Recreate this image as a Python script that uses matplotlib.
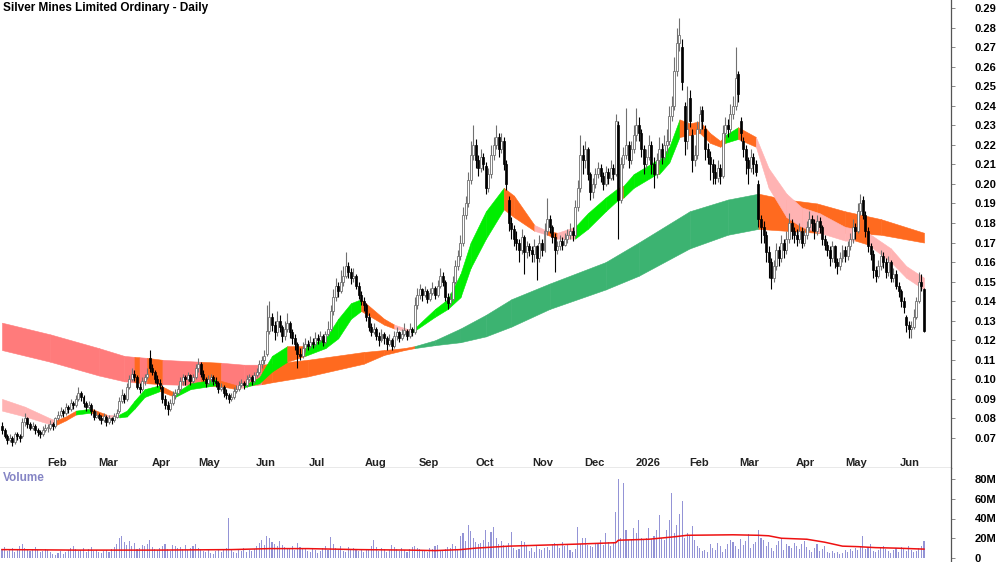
import numpy as np
import pandas as pd
import matplotlib
matplotlib.use('Agg')
import matplotlib.pyplot as plt
from matplotlib.transforms import blended_transform_factory

plt.rcParams['font.family'] = ['Liberation Sans', 'DejaVu Sans']

TITLE = "Silver Mines Limited Ordinary - Daily"

# ---------------- data (prices in 1/1000 dollar) ----------------
holidays = ['2025-01-27', '2025-04-18', '2025-04-21', '2025-04-25', '2025-06-09',
            '2025-12-25', '2025-12-26', '2026-01-01', '2026-01-26', '2026-04-03',
            '2026-04-06', '2026-06-08']
start_date, end_date = '2025-01-07', '2026-06-15'

opens = [76,74,71,69,70,68,72,71,71,78,80,77,75,76,74,73,72,74,
 75,75,77,76,80,82,84,83,86,85,88,87,90,93,91,88,86,87,84,81,
 82,80,79,81,78,80,79,81,84,89,92,90,96,100,103,101,96,95,99,101,111,
 106,104,100,98,96,90,87,85,88,92,93,95,99,101,100,102,99,101,106,
 108,103,100,98,100,101,99,98,95,96,93,92,90,91,94,95,97,98,97,100,101,99,
 102,104,108,110,113,125,132,128,124,130,127,122,126,129,124,121,118,113,112,116,
 118,117,119,118,121,120,122,119,123,126,135,142,148,145,150,153,158,155,152,153,148,143,140,
 138,132,127,124,126,122,120,123,121,118,120,117,122,124,121,123,125,122,126,124,138,
 143,146,143,145,141,144,147,143,148,153,150,142,139,141,150,158,163,170,184,190,202,215,
 220,212,208,214,209,198,205,215,220,224,218,222,210,192,180,177,172,170,166,173,165,168,166,
 164,168,162,170,166,176,182,178,173,166,168,171,169,172,174,176,174,188,198,215,
 212,218,205,196,200,205,208,204,200,206,203,208,205,230,192,210,215,220,212,218,225,
 230,226,218,210,214,220,210,205,212,218,214,220,222,235,240,258,272,270,240,222,
 244,225,212,215,228,238,228,218,214,210,206,203,208,204,226,230,228,236,240,256,
 232,222,218,212,208,214,210,200,182,178,174,165,160,152,158,166,162,170,166,172,180,176,
 174,172,176,170,174,178,182,180,176,181,178,172,169,166,162,168,160,158,162,166,
 163,168,172,178,176,186,192,184,176,168,164,156,153,158,163,160,155,160,152,154,148,
 145,140,132,128,126,127,132,140,150,146]

highs = [78,75,72,72,71,73,73,72,80,83,81,78,78,77,75,74,76,77,
 77,79,78,81,84,86,85,88,87,90,89,92,96,94,92,89,89,88,85,84,
 83,82,83,82,82,81,83,85,91,95,93,98,102,106,105,102,98,101,103,106,115,
 108,105,102,100,97,92,89,90,94,95,97,101,103,102,104,103,103,108,111,
 109,105,101,102,103,102,101,99,98,97,95,93,93,96,97,99,100,99,102,103,102,104,
 106,110,112,115,138,140,134,130,135,133,128,130,134,130,126,123,119,116,119,121,
 120,122,121,124,123,125,123,125,130,138,146,152,150,156,158,165,160,157,157,154,150,145,142,
 139,134,129,129,127,124,126,124,122,123,121,125,127,125,126,129,126,129,127,142,147,
 149,147,148,146,147,150,148,151,157,155,151,144,144,153,161,166,174,188,194,206,222,230,
 223,215,218,216,211,208,220,224,230,226,226,224,212,194,183,179,176,172,177,174,171,170,168,
 172,169,174,172,180,193,184,179,175,171,174,173,175,177,180,178,192,202,225,220,
 222,219,206,203,208,211,210,206,209,208,212,210,236,232,214,219,239,222,222,230,239,
 234,228,220,218,225,222,214,216,224,221,225,228,240,245,265,280,285,274,242,250,
 248,228,220,232,240,240,230,221,217,213,210,212,210,230,234,233,241,245,270,258,
 234,224,220,214,218,216,212,202,184,181,176,168,162,161,170,168,174,172,176,185,182,178,
 177,180,178,177,181,186,184,182,184,183,179,174,171,168,171,169,162,165,169,168,
 171,175,182,180,190,195,194,186,178,170,166,158,161,166,165,162,163,161,157,156,150,
 146,142,133,130,130,136,142,155,154,147]

lows = [72,70,67,68,66,67,69,68,70,76,75,74,74,72,71,70,71,73,
 73,74,74,75,79,81,81,82,83,84,85,86,89,89,86,84,85,82,79,80,
 79,77,78,76,77,77,78,80,83,88,88,89,95,99,99,95,93,94,97,100,104,
 102,98,96,95,88,85,82,84,87,90,92,94,97,97,99,97,98,100,104,
 101,99,96,97,98,97,96,93,94,91,90,88,89,90,93,94,96,95,96,99,97,98,
 101,103,106,108,112,123,125,120,122,124,119,120,124,121,118,115,106,110,111,114,
 115,116,116,117,118,119,117,118,122,125,133,140,142,144,148,152,152,149,150,146,141,138,135,
 130,125,122,123,120,117,119,118,115,117,115,116,120,119,120,122,120,121,122,123,136,
 141,140,142,139,140,143,141,142,147,148,140,136,138,140,149,156,161,168,182,188,200,212,
 208,204,206,207,195,196,203,212,218,214,216,207,197,176,172,168,166,160,164,154,162,163,160,
 160,151,160,163,165,174,175,170,155,164,166,166,168,170,172,171,173,186,196,205,
 208,202,192,193,198,203,201,197,199,200,202,202,204,172,190,208,213,208,210,216,222,
 222,214,205,208,212,205,198,203,210,210,212,216,220,232,238,255,268,248,215,218,
 229,206,209,213,226,228,212,210,202,200,200,201,200,203,224,224,226,233,238,242,
 222,214,205,200,206,205,204,178,170,170,160,152,146,150,156,158,160,162,164,170,172,170,
 168,170,167,168,172,176,176,172,174,175,169,166,163,158,160,157,154,156,160,160,
 161,166,170,172,175,184,182,173,165,161,152,150,152,156,157,152,153,150,150,146,142,
 137,134,124,121,121,126,131,139,145,124]

closes = [74,71,69,70,68,72,71,70,78,80,77,75,76,74,73,72,74,75,
 75,77,76,80,82,84,83,86,85,88,87,90,93,91,88,86,87,84,81,82,
 80,79,81,78,80,79,81,83,89,92,90,96,100,103,101,96,95,99,101,103,106,
 104,100,98,97,90,87,85,88,92,93,95,99,101,100,102,99,101,106,108,
 103,100,98,100,101,99,98,95,96,93,92,90,91,94,95,97,98,97,100,101,99,102,
 104,108,110,112,125,132,128,124,130,127,122,126,129,124,121,118,113,112,116,118,
 117,119,118,121,120,122,119,123,126,135,142,148,145,150,153,158,155,152,153,148,143,140,138,
 132,127,124,126,122,120,123,121,118,120,117,122,124,121,123,125,122,126,124,138,143,
 146,143,145,141,144,147,143,148,153,150,142,139,141,150,158,163,170,184,190,202,215,220,
 212,208,214,210,198,205,215,220,224,218,222,210,200,180,177,172,170,166,173,165,168,166,164,
 168,162,170,166,176,182,178,173,166,168,171,169,172,174,176,174,188,198,215,212,
 218,205,196,200,205,208,204,200,206,203,208,205,232,192,210,215,220,212,218,225,230,
 226,218,210,214,220,210,205,212,218,214,220,222,235,240,258,272,276,252,222,228,
 232,212,215,228,236,232,218,214,210,206,203,208,204,226,230,228,236,240,254,246,
 226,218,212,208,214,210,206,182,178,174,165,160,152,158,166,162,170,166,172,180,176,174,
 172,176,170,174,178,182,180,176,181,178,172,169,166,162,168,160,158,162,166,163,
 168,172,178,176,186,190,184,176,168,164,156,153,158,163,160,155,160,152,154,148,145,
 140,137,128,126,127,132,140,150,148,125]

# volume in millions
volumes = [9,11,7,8,10,6,9,12,14,10,8,7,9,11,8,6,7,9,
 8,6,4,3,5,7,4,6,8,10,12,9,7,8,10,6,9,11,7,8,
 6,5,7,8,6,9,11,14,20,22,16,13,17,12,15,9,10,13,12,14,18,
 11,9,8,10,12,14,9,7,13,12,10,11,9,13,8,10,12,14,10,
 9,7,6,8,5,4,7,9,6,8,10,41,8,6,5,9,7,10,6,8,7,9,
 12,15,18,13,22,20,16,14,12,17,13,11,10,9,12,8,15,11,9,10,
 7,6,9,8,5,7,10,12,8,21,14,10,9,12,7,6,11,8,10,9,7,8,6,
 9,8,12,18,11,7,10,9,6,8,13,11,9,7,10,8,6,9,11,12,10,
 9,7,8,6,10,9,12,13,8,7,9,11,10,14,12,9,22,25,17,33,27,20,
 16,14,15,18,28,16,26,31,20,14,17,13,12,15,26,10,8,9,17,16,12,7,10,
 6,12,9,8,10,11,8,14,15,13,10,16,12,14,8,6,9,31,14,20,
 20,13,12,11,14,15,18,13,25,16,12,15,47,80,20,76,28,18,19,30,25,
 38,20,18,20,30,19,22,28,44,20,18,28,38,66,25,33,45,58,20,25,
 22,32,18,12,10,7,8,6,14,10,8,15,12,6,9,14,18,16,12,9,
 19,13,17,24,10,14,16,28,20,18,12,16,10,7,13,17,19,8,14,12,10,15,
 12,9,14,17,11,8,6,10,14,7,9,12,6,5,7,5,6,4,5,8,
 6,9,7,10,8,12,22,9,11,14,7,6,8,10,12,9,7,5,8,10,6,
 11,9,7,12,8,6,7,10,12,17]

# volume moving average, at bar index
vma_idx = [0, 30, 60, 90, 105, 120, 140, 160, 170, 180, 186, 199, 225, 241, 242, 254, 264,
           269, 287, 297, 301, 306, 316, 323, 330, 336, 343, 351, 362]
vma_val = [8.5, 8, 8, 8.5, 9.5, 9.5, 8.5, 8, 7.5, 8.5, 10, 12, 14, 15.5, 18, 19, 21.5,
           23, 23.5, 23, 22.5, 20, 19, 16, 12, 11.5, 10.5, 10, 9]

# short-term MMA ribbon (bar index, upper, lower, colour code of following segment)
short_idx = [0,9,19,21,25,29,35,41,46,49,52,56,62,68,74,84,92,95,101,106,112,119,127,132,137,
             141,150,154,161,170,175,180,184,190,197,201,209,214,218,225,230,237,242,244,248,
             257,258,262,266,270,274,278,282,284,289,296,301,308,314,321,331,335,340,349,355,362]
short_top = [90,86,80,79,81,84,85,82,82,84,89,95,97,93,98,100,97,97,101,112,117,117,121,131,139,
             141,131,128,125,136,141,154,170,186,198,194,179,176,175,178,185,193,198,199,205,
             212,212,219,233,231,232,226,222,225,229,224,208,195,188,185,178,177,175,167,158,152]
short_bot = [84,81,77,76.5,79,82,83,80.5,80.5,81,85,91,94,91,95,97,95,96,98,104,109,112,116,121,131,
             135,128,126,124,132,136,142,157,172,187,183,176,174,172,172,177,186,192,193,198,
             205,205,211,224,225,226,221,219,221,223,219,198,183,178,175,171,171,169,160,152,146]
short_col = ['p','p','p','o','o','g','o','p','g','g','g','g','o','g','g','o','p','g','g','g','o','g','g','g','g',
             'o','o','p','g','g','g','g','g','g','o','o','p','o','p','g','g','g','o','g','g',
             'o','g','g','o','o','o','o','o','g','o','p','p','p','p','p','p','o','p','p','p','p']

# long-term MMA ribbon
long_idx = [0,19,38,48,52,54,57,63,78,86,95,102,106,120,142,150,158,162,170,180,190,200,215,
            237,250,270,285,297,308,320,331,345,362]
long_top = [129,123,116,112,111.5,111.3,111,110,109,108.5,107.5,107.5,108,110,114,115,116,117,120,
            126,133,141,149,160,170,186,192,195,192,190,186,182,175]
long_bot = [115,109,102,99,98.5,98.3,98,97.5,97,96.5,96.5,97.5,98.5,101.5,108,112.5,115,116,117.5,
            119,122,127,136,146,153,167,174,177,176,175,175,174,170]
long_col = ['s','s','s','s','o','s','o','s','o','s','s','o','o','o','o','o','o','g','g',
            'g','g','g','g','g','g','g','g','o','o','o','o','o','o']

price_ticks = [0.07,0.08,0.09,0.10,0.11,0.12,0.13,0.14,0.15,0.16,0.17,0.18,0.19,0.20,
               0.21,0.22,0.23,0.24,0.25,0.26,0.27,0.28,0.29]
vol_ticks = [0, 20, 40, 60, 80]
vol_tick_labels = ['0', '20M', '40M', '60M', '80M']

# ---------------- figure ----------------
W, H = 1000, 562
fig = plt.figure(figsize=(W / 100, H / 100), dpi=100)
AX_R = 951
MAIN_B = 468
ax = fig.add_axes([0, (H - MAIN_B) / H, AX_R / W, MAIN_B / H])
axv = fig.add_axes([0, 0, AX_R / W, (H - MAIN_B) / H])

days = pd.bdate_range(start_date, end_date)
days = days[~days.isin(pd.to_datetime(holidays))]
n = min(len(days), len(closes), len(opens), len(highs), len(lows), len(volumes))
days = days[:n]
x = np.arange(n)
o = np.array(opens[:n]) / 1000.0
h = np.array(highs[:n]) / 1000.0
l = np.array(lows[:n]) / 1000.0
c = np.array(closes[:n]) / 1000.0
v = np.array(volumes[:n], dtype=float)

pxd = (924 - 2) / (n - 1)          # pixels per bar
x0 = -2 / pxd
x1 = x0 + AX_R / pxd

# price scale: 0.29 at y=8 px, 0.07 at y=438 px
ppp = 0.22 / 430
ytop = 0.29 + 8 * ppp
ybot = 0.07 - (MAIN_B - 438) * ppp

COLS = {'g': '#00ee00', 'o': '#ff6a1f', 'p': '#ffb3b3', 's': '#ff7b7b', 'G': '#3cb371'}


def ribbon(axis, idx, top, bot, cols, cmap):
    for k in range(len(idx) - 1):
        col = cmap[cols[k]]
        axis.fill_between([idx[k], idx[k + 1]],
                          [bot[k] / 1000.0, bot[k + 1] / 1000.0],
                          [top[k] / 1000.0, top[k + 1] / 1000.0],
                          color=col, lw=0.4, edgecolor=col, zorder=1)


ribbon(ax, long_idx, long_top, long_bot, long_col,
       {'s': COLS['s'], 'o': COLS['o'], 'g': COLS['G']})
ribbon(ax, short_idx, short_top, short_bot, short_col,
       {'p': COLS['p'], 'o': COLS['o'], 'g': COLS['g']})

# candles
up = c >= o
UPC = '#707070'
ax.vlines(x[up], l[up], h[up], color=UPC, lw=0.8, zorder=3)
ax.vlines(x[~up], l[~up], h[~up], color='black', lw=0.8, zorder=3)
ax.bar(x[up], np.maximum((c - o)[up], 0.0005), bottom=o[up], width=0.78,
       facecolor='white', edgecolor=UPC, lw=0.6, zorder=4)
ax.bar(x[~up], (o - c)[~up], bottom=c[~up], width=0.78,
       facecolor='black', edgecolor='black', lw=0.5, zorder=4)

ax.set_xlim(x0, x1)
ax.set_ylim(ybot, ytop)
ax.yaxis.tick_right()
ax.set_yticks(price_ticks)
ax.set_yticklabels([f"{t:.2f}" for t in price_ticks], fontsize=8, fontweight='bold')
ax.tick_params(axis='y', direction='out', length=3, width=0.6, color='#777777', pad=14)
ax.set_xticks([])
for s in ['top', 'left']:
    ax.spines[s].set_visible(False)
for s in ['right', 'bottom']:
    ax.spines[s].set_color('#555555')
    ax.spines[s].set_linewidth(0.9)

# month labels
tr = blended_transform_factory(ax.transData, ax.transAxes)
month_start = pd.Series(x, index=days).groupby([days.year, days.month]).first()
for (yr, mo), i in month_start.items():
    if i == 0:
        continue
    lab = str(yr) if mo == 1 else pd.Timestamp(year=yr, month=mo, day=1).strftime('%b')
    ax.text(i + 3.5, (MAIN_B - 463) / MAIN_B, lab, transform=tr, ha='center', va='center',
            fontsize=8, fontweight='bold', color='#222222')

fig.text(3 / W, 1 - 8 / H, TITLE, ha='left', va='center', fontsize=8.5, fontweight='bold')

# volume panel
axv.bar(x, v, width=0.42, color='#9494d6', zorder=2)
axv.plot(vma_idx, vma_val, color='#ee1111', lw=1.1, zorder=3)
vpp = 80 / (558 - 479)
axv.set_xlim(x0, x1)
axv.set_ylim(-(H - 558) * vpp, 80 + (479 - MAIN_B) * vpp)
axv.yaxis.tick_right()
axv.set_yticks(vol_ticks)
axv.set_yticklabels(vol_tick_labels, fontsize=8, fontweight='bold')
axv.tick_params(axis='y', direction='out', length=3, width=0.6, color='#777777', pad=14)
axv.set_xticks([])
for s in ['top', 'left', 'bottom']:
    axv.spines[s].set_visible(False)
axv.spines['right'].set_color('#555555')
axv.spines['right'].set_linewidth(0.9)
axv.text(3 / AX_R, 1 - (478 - MAIN_B) / (H - MAIN_B), 'Volume', transform=axv.transAxes,
         ha='left', va='center', fontsize=8.5, fontweight='bold', color='#8585c5')

fig.savefig('out.png', dpi=100)
